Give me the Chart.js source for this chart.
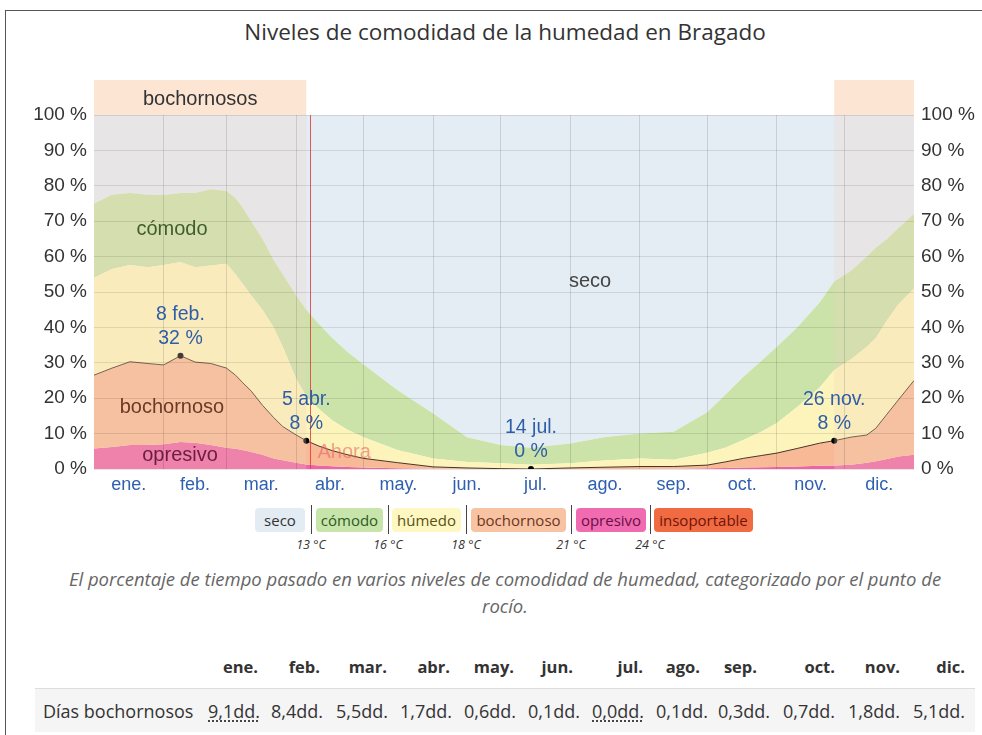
<!DOCTYPE html>
<html><head><meta charset="utf-8">
<script src="https://cdn.jsdelivr.net/npm/chart.js@4.4.1/dist/chart.umd.min.js"></script>
<style>
html,body{margin:0;padding:0;background:#fff;}
#wrap{position:relative;width:982px;height:735px;overflow:hidden;font-family:"Open Sans",sans-serif;color:#333;}
#frame{position:absolute;left:5px;top:10px;width:990px;height:740px;border-left:1px solid #555;border-top:1px solid #555;}
#title{position:absolute;left:0;width:1010px;top:16px;text-align:center;font-size:22.5px;line-height:32px;color:#333;}
#c{position:absolute;left:0;top:0;}
.lg{position:absolute;top:508px;height:24px;line-height:24px;border-radius:4px;text-align:center;font-size:15px;}
.sep{position:absolute;top:505px;height:29px;width:1px;background:#444;}
.tmp{position:absolute;top:537px;width:60px;margin-left:-30px;text-align:center;font-size:12.5px;font-style:italic;color:#333;line-height:16px;}
#cap{position:absolute;left:0;width:1010px;top:565px;text-align:center;font-size:18.5px;font-style:italic;color:#666;line-height:27px;}
.th{position:absolute;top:654px;font-weight:bold;font-size:16.5px;line-height:26px;text-align:right;width:80px;color:#333;}
#row{position:absolute;left:35px;top:688px;width:940px;height:43px;background:#f5f5f5;border-top:1px solid #ddd;}
.td{position:absolute;top:698px;font-size:18px;line-height:26px;text-align:right;width:80px;color:#333;}
.ab{text-decoration:underline dotted;text-underline-offset:3px;}
</style></head>
<body>
<div id="wrap">
<div id="frame"></div>
<div id="title">Niveles de comodidad de la humedad en Bragado</div>
<canvas id="c" width="982" height="500"></canvas>
<div id="legend"></div>
<div id="cap">El porcentaje de tiempo pasado en varios niveles de comodidad de humedad, categorizado por el punto de<br>rocío.</div>
<div id="table"><div id="row"></div></div>
</div>
<script>
// ---------- data ----------
const monthLabels = ['ene.','feb.','mar.','abr.','may.','jun.','jul.','ago.','sep.','oct.','nov.','dic.'];
const monthStarts = [0,31,59,90,120,151,181,212,243,273,304,334,365];
const yTicks = [0,10,20,30,40,50,60,70,80,90,100];

// day of year (0 = 1 ene.)
const days = [0,8,16,24,31,38.5,45,52,59,63,66,70,75,80,84,90,94.5,100,106,113,120,135,151,166,181,194.5,212,227,243,258,273,281,289,297,304,313,323,329.5,337,344,348,353,358,365];
// cumulative top of each band, %
const opresivoTop   = [5.8,6.2,6.8,6.8,7.0,7.6,7.4,6.8,6.0,5.7,5.4,4.8,4.0,3.0,2.5,1.8,1.3,1.0,0.8,0.6,0.4,0.2,0.1,0,0,0,0,0,0,0.1,0.2,0.3,0.4,0.5,0.6,0.7,0.9,1.0,1.2,1.8,2.2,2.8,3.5,4.0];
const bochornosoTop = [26.5,28.5,30.3,29.8,29.4,32,30.2,29.8,28.5,26.5,24.5,22,18,14.5,12,9.6,8,6.5,5.2,4,3,1.8,0.6,0.3,0.1,0,0.3,0.5,0.7,0.7,1.1,2,3,3.8,4.5,5.8,7.3,8,9,9.6,11.5,15.5,19.5,25];
const humedoTop     = [54,56.5,57.6,57,57.6,58.5,57,57.5,58,55,52.5,49,45,40,34.5,25.5,20.5,17,13.8,11,9,5.4,3,2,1.6,1.2,1.6,2.4,3,2.6,4.6,6,8.2,10.5,13,17.5,23,28,31,34.5,37,42,46.5,51];
const comodoTop     = [75,77.5,78,77.5,77.4,78,78,79,78.5,76.5,74,70,65,59,55,49,45,41,37,33,29.5,22.3,15.7,9,6.8,6,7.2,9,10,10.5,16,21,26,30.5,34.5,40,47,53,56,60,62.5,65,68,72];

const markerDays  = [38.5, 94.5, 194.5, 329.5];
const markerVals  = [32, 8, 0, 8];
const markerDates = ['8 feb.','5 abr.','14 jul.','26 nov.'];
const seasonRanges = [[0,94.5],[329.5,365]];
const seasonLabel = 'bochornosos';
const nowDay = 96;

const tableMonths = ['ene.','feb.','mar.','abr.','may.','jun.','jul.','ago.','sep.','oct.','nov.','dic.'];
const humidDays = [9.1,8.4,5.5,1.7,0.6,0.1,0.0,0.1,0.3,0.7,1.8,5.1];

// ---------- layout (positions only) ----------
const headRight = [258,320,387,450,514,573,643,700,757,835,900,965];
const valRight  = [260,323,388,452,516,580,644,708,770,835,900,965];
const legendItems = [
  {t:'seco', l:255, w:50, bg:'#e3ebf3', c:'#333'},
  {t:'cómodo', l:316, w:67, bg:'#c7e4aa', c:'#2f5a22'},
  {t:'húmedo', l:392, w:69, bg:'#fdf8c2', c:'#5a5018'},
  {t:'bochornoso', l:471, w:95, bg:'#f8c3a3', c:'#6d3520'},
  {t:'opresivo', l:576, w:70, bg:'#f06bb0', c:'#6a0f45'},
  {t:'insoportable', l:654, w:99, bg:'#f06a42', c:'#6e1408'}
];
const seps = [{x:311,t:'13 °C'},{x:388,t:'16 °C'},{x:466,t:'18 °C'},{x:571,t:'21 °C'},{x:650,t:'24 °C'}];

// legend html
const lg = document.getElementById('legend');
legendItems.forEach(it=>{const d=document.createElement('div');d.className='lg';d.style.left=it.l+'px';d.style.width=it.w+'px';d.style.background=it.bg;d.style.color=it.c;d.textContent=it.t;lg.appendChild(d);});
seps.forEach(s=>{const d=document.createElement('div');d.className='sep';d.style.left=s.x+'px';lg.appendChild(d);const t=document.createElement('div');t.className='tmp';t.style.left=s.x+'px';t.textContent=s.t;lg.appendChild(t);});
// table html
const tb = document.getElementById('table');
tableMonths.forEach((m,i)=>{const d=document.createElement('div');d.className='th';d.style.left=(headRight[i]-80)+'px';d.textContent=m;tb.appendChild(d);});
{const d=document.createElement('div');d.className='td';d.style.left='43px';d.style.width='200px';d.style.textAlign='left';d.textContent='Días bochornosos';tb.appendChild(d);}
humidDays.forEach((v,i)=>{const d=document.createElement('div');d.className='td';d.style.left=(valRight[i]-80)+'px';const s=document.createElement('span');s.textContent=v.toFixed(1).replace('.',',')+'dd.';if(i===0||i===6)s.className='ab';d.appendChild(s);tb.appendChild(d);});

// ---------- chart ----------
const pts = arr => days.map((d,i)=>({x:d,y:arr[i]}));
const monthMids = monthLabels.map((m,i)=>(monthStarts[i]+monthStarts[i+1])/2);
const FONT = 'Liberation Sans, Arial, sans-serif';

const decor = {
  id:'decor',
  afterDatasetsDraw(chart){
    const {ctx, chartArea:a, scales:{x}} = chart;
    ctx.save();
    ctx.fillStyle='rgba(240,212,190,0.28)';
    seasonRanges.forEach(r=>{const x0=x.getPixelForValue(r[0]),x1=x.getPixelForValue(r[1]);ctx.fillRect(x0,a.top,x1-x0,a.bottom-a.top);});
    ctx.restore();
  },
  afterDraw(chart){
    const {ctx, chartArea:a, scales:{x,y}} = chart;
    ctx.save();
    // season band above chart
    ctx.fillStyle='#fde5d4';
    seasonRanges.forEach(r=>{const x0=x.getPixelForValue(r[0]),x1=x.getPixelForValue(r[1]);ctx.fillRect(x0,a.top-35,x1-x0,35);});
    ctx.fillStyle='#333';ctx.font='20px '+FONT;ctx.textAlign='center';ctx.textBaseline='middle';
    const r0=seasonRanges[0];
    ctx.fillText(seasonLabel,(x.getPixelForValue(r0[0])+x.getPixelForValue(r0[1]))/2,a.top-16);
    // now line
    const nx=Math.round(x.getPixelForValue(nowDay))+0.5;
    ctx.strokeStyle='rgba(225,60,60,0.85)';ctx.lineWidth=1;
    ctx.beginPath();ctx.moveTo(nx,a.top);ctx.lineTo(nx,a.bottom);ctx.stroke();
    ctx.fillStyle='rgba(235,100,100,0.6)';ctx.textAlign='left';
    ctx.fillText('Ahora',nx+7,y.getPixelForValue(4.6));
    // band labels
    ctx.textAlign='center';
    ctx.fillStyle='#3f5e2c';ctx.font='20px '+FONT;ctx.fillText('cómodo',x.getPixelForValue(34.7),y.getPixelForValue(67.8));
    ctx.fillStyle='#6b3a26';ctx.fillText('bochornoso',x.getPixelForValue(34.7),y.getPixelForValue(17.5));
    ctx.fillStyle='#6a1e3e';ctx.fillText('opresivo',x.getPixelForValue(38.3),y.getPixelForValue(3.7));
    ctx.fillStyle='#444';ctx.fillText('seco',x.getPixelForValue(220.8),y.getPixelForValue(53.1));
    // marker annotations
    ctx.fillStyle='#2f5ea8';ctx.font='19.5px '+FONT;
    markerDays.forEach((d,i)=>{const px=x.getPixelForValue(d),py=y.getPixelForValue(markerVals[i]);
      ctx.fillText(markerDates[i],px,py-41);ctx.fillText(markerVals[i]+' %',px,py-17);});
    ctx.restore();
  }
};

new Chart(document.getElementById('c'),{
  type:'line',
  data:{datasets:[
    {label:'marcadores',data:markerDays.map((d,i)=>({x:d,y:markerVals[i]})),showLine:false,pointRadius:3,pointBackgroundColor:'#000',pointBorderWidth:0,fill:false},
    {label:'bochornoso',data:pts(bochornosoTop),borderColor:'#4a3426',borderWidth:1,backgroundColor:'#f8ba96',fill:2,pointRadius:0},
    {label:'opresivo',data:pts(opresivoTop),borderWidth:0,backgroundColor:'#ee63a3',fill:'origin',pointRadius:0},
    {label:'húmedo',data:pts(humedoTop),borderWidth:0,backgroundColor:'#fdf4bb',fill:1,pointRadius:0},
    {label:'cómodo',data:pts(comodoTop),borderWidth:0,backgroundColor:'#cbe2a8',fill:3,pointRadius:0},
    {label:'seco',data:pts(comodoTop),borderWidth:0,backgroundColor:'#e4ecf4',fill:'end',pointRadius:0}
  ]},
  options:{
    responsive:false,animation:false,
    layout:{padding:{top:115,left:0,right:0,bottom:0},autoPadding:false},
    plugins:{legend:{display:false},tooltip:{enabled:false}},
    elements:{line:{tension:0}},
    scales:{
      x:{type:'linear',min:0,max:365,position:'bottom',
        afterBuildTicks:s=>{s.ticks=monthStarts.slice(1,12).map(v=>({value:v}));},
        grid:{color:'rgba(0,0,0,0.12)',drawTicks:false,z:1},border:{display:false},
        ticks:{display:false},afterFit:s=>{s.height=0;}},
      xm:{type:'linear',min:0,max:365,position:'bottom',
        afterBuildTicks:s=>{s.ticks=monthMids.map(v=>({value:v}));},
        grid:{display:false,drawTicks:false},border:{display:false},
        ticks:{autoSkip:false,maxRotation:0,padding:5,color:'#2e5fb0',font:{family:FONT,size:18},callback:(v,i)=>monthLabels[i]},
        afterFit:s=>{s.height=31;}},
      y:{min:0,max:100,position:'left',
        afterBuildTicks:s=>{s.ticks=yTicks.map(v=>({value:v}));},
        grid:{color:'rgba(0,0,0,0.1)',drawTicks:false,z:1},border:{display:false},
        ticks:{padding:7,color:'#333',font:{family:FONT,size:19},callback:v=>v+' %'},
        afterFit:s=>{s.width=94;}},
      y2:{min:0,max:100,position:'right',
        afterBuildTicks:s=>{s.ticks=yTicks.map(v=>({value:v}));},
        grid:{display:false,drawTicks:false},border:{display:false},
        ticks:{padding:7,color:'#333',font:{family:FONT,size:19},callback:v=>v+' %'},
        afterFit:s=>{s.width=68;}}
    }
  },
  plugins:[decor]
});
</script>
</body></html>
